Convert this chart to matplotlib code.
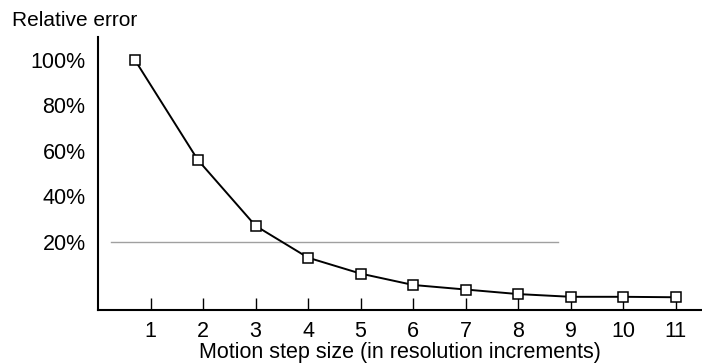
import numpy as np
import matplotlib.pyplot as plt

plt.rcParams['font.family'] = ['Liberation Sans', 'DejaVu Sans']

# data
step_size = [0.7, 1.9, 3, 4, 5, 6, 7, 8, 9, 10, 11]
rel_error = [100, 56, 27, 13, 6, 1, -1, -3, -4.2, -4.2, -4.4]

x_ticks = [1, 2, 3, 4, 5, 6, 7, 8, 9, 10, 11]
y_ticks = [20, 40, 60, 80, 100]
y_labels = ['20%', '40%', '60%', '80%', '100%']

threshold = 20
threshold_span = (0.25, 8.75)

fig = plt.figure(figsize=(7.02, 3.64), dpi=100)
ax = fig.add_axes([98 / 702, 54 / 364, 604 / 702, 273 / 364])

ax.plot(threshold_span, [threshold, threshold], color='#a0a0a0', lw=1.0)
ax.plot(step_size, rel_error, color='black', lw=1.4, marker='s',
        markersize=6.5, markerfacecolor='white', markeredgecolor='black',
        markeredgewidth=1.1, zorder=3)

ax.set_xlim(0, 11.5)
ax.set_ylim(-10, 110)

ax.set_xticks(x_ticks)
ax.set_yticks(y_ticks)
ax.set_yticklabels(y_labels)

ax.spines['top'].set_visible(False)
ax.spines['right'].set_visible(False)
ax.spines['left'].set_linewidth(1.5)
ax.spines['bottom'].set_linewidth(1.5)

fs = 15.5
ax.tick_params(axis='x', direction='in', length=8.5, width=1.0, pad=8, labelsize=fs)
ax.tick_params(axis='y', length=0, pad=9, labelsize=fs)

ax.set_xlabel('Motion step size (in resolution increments)', fontsize=fs, labelpad=0)
fig.text(12 / 702, 1 - 21 / 364, 'Relative error', fontsize=15, va='center', ha='left')

fig.savefig('out.png', dpi=100)
